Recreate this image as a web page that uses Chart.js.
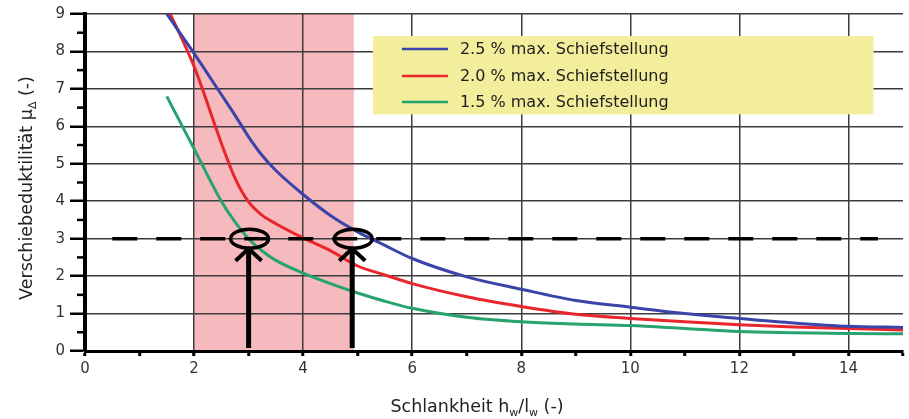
<!DOCTYPE html>
<html lang="de">
<head>
<meta charset="UTF-8">
<title>Verschiebeduktilität</title>
<script src="https://cdn.jsdelivr.net/npm/chart.js"></script>
<style>
  html, body { margin: 0; padding: 0; background: #fff; }
  #wrap { width: 909px; height: 419px; }
</style>
</head>
<body>
<div id="wrap"><canvas id="chart"></canvas></div>
<script>
// Schlankheit hw/lw
const slenderness = [1.5, 2, 2.5, 2.75, 3, 3.25, 3.5, 4, 4.5, 5, 5.5, 6, 7, 8, 9, 10, 11, 12, 13, 14, 15];
// Verschiebeduktilitaet je max. Schiefstellung
const tilt25 = [9.0, 7.95, 6.85, 6.3, 5.72, 5.22, 4.82, 4.18, 3.62, 3.18, 2.82, 2.47, 1.98, 1.65, 1.35, 1.17, 1.0, 0.87, 0.75, 0.66, 0.63];
const tilt20 = [9.2, 7.6, 5.55, 4.62, 3.98, 3.62, 3.4, 3.02, 2.68, 2.27, 2.03, 1.8, 1.45, 1.19, 0.98, 0.87, 0.78, 0.7, 0.64, 0.6, 0.56];
const tilt15 = [6.8, 5.4, 4.0, 3.45, 3.0, 2.67, 2.42, 2.08, 1.8, 1.55, 1.33, 1.14, 0.9, 0.78, 0.72, 0.68, 0.6, 0.52, 0.49, 0.47, 0.46];
const seriesLabels = ['2.5 % max. Schiefstellung', '2.0 % max. Schiefstellung', '1.5 % max. Schiefstellung'];
const seriesColors = ['#3b44a8', '#e8262b', '#27a36f'];

// markierungen
const shadedRange = [2, 4.93];
const limitDuctility = 3;
const markedSlenderness = [3, 4.9];

function toPoints(ys) {
  return slenderness.map((x, i) => ({ x: x, y: ys[i] }));
}

const tickFont = { family: 'DejaVu Sans', size: 15 };

const extras = {
  id: 'extras',
  beforeDraw(chart) {
    const { ctx, chartArea: a, scales: { x, y } } = chart;
    ctx.save();
    ctx.fillStyle = '#f6b9be';
    ctx.fillRect(x.getPixelForValue(shadedRange[0]), a.top,
      x.getPixelForValue(shadedRange[1]) - x.getPixelForValue(shadedRange[0]), a.bottom - a.top);
    ctx.restore();
  },
  beforeDatasetsDraw(chart) {
    const { ctx, scales: { x, y } } = chart;
    ctx.save();
    // gelbe legendenbox
    const bx = x.getPixelForValue(5.28), by = y.getPixelForValue(8.41);
    const bw = x.getPixelForValue(14.46) - bx, bh = y.getPixelForValue(6.32) - by;
    ctx.fillStyle = '#f3ee9c';
    ctx.fillRect(bx, by, bw, bh);
    // kleine zwischenticks an der y-achse
    ctx.strokeStyle = '#000';
    ctx.lineWidth = 2.5;
    const x0 = x.getPixelForValue(0);
    for (let v = 0.5; v < 9; v += 1) {
      const py = y.getPixelForValue(v);
      ctx.beginPath();
      ctx.moveTo(x0 - 8, py);
      ctx.lineTo(x0, py);
      ctx.stroke();
    }
    ctx.restore();
  },
  afterDatasetsDraw(chart) {
    const { ctx, scales: { x, y } } = chart;
    ctx.save();
    const yl = y.getPixelForValue(limitDuctility);
    // gestrichelte grenzlinie
    ctx.strokeStyle = '#000';
    ctx.lineWidth = 3.5;
    ctx.setLineDash([25, 19]);
    ctx.beginPath();
    ctx.moveTo(x.getPixelForValue(0.5), yl);
    ctx.lineTo(x.getPixelForValue(14.54), yl);
    ctx.stroke();
    ctx.setLineDash([]);
    // kreise und pfeile
    markedSlenderness.forEach(v => {
      const px = x.getPixelForValue(v);
      ctx.lineWidth = 3.5;
      ctx.beginPath();
      ctx.ellipse(px + 1, yl, 19, 9.5, 0, 0, Math.PI * 2);
      ctx.stroke();
      const tip = yl + 10;
      ctx.lineWidth = 5;
      ctx.beginPath();
      ctx.moveTo(px, y.getPixelForValue(0) - 3);
      ctx.lineTo(px, tip + 2);
      ctx.stroke();
      ctx.lineWidth = 4;
      ctx.beginPath();
      ctx.moveTo(px - 13, tip + 12);
      ctx.lineTo(px, tip);
      ctx.lineTo(px + 13, tip + 12);
      ctx.stroke();
    });
    // legende
    ctx.font = '16px "DejaVu Sans"';
    ctx.textBaseline = 'middle';
    ctx.textAlign = 'left';
    const lx = x.getPixelForValue(5.28) + 29;
    const rows = [49, 76, 102];
    chart.data.datasets.forEach((ds, i) => {
      ctx.strokeStyle = ds.borderColor;
      ctx.lineWidth = 2.5;
      ctx.beginPath();
      ctx.moveTo(lx, rows[i]);
      ctx.lineTo(lx + 46, rows[i]);
      ctx.stroke();
      ctx.fillStyle = '#1e1e1e';
      ctx.fillText(ds.label, lx + 58, rows[i] + 1);
    });
    ctx.restore();
  },
  afterDraw(chart) {
    const { ctx } = chart;
    ctx.save();
    ctx.fillStyle = '#222';
    ctx.textBaseline = 'alphabetic';
    // y-titel
    ctx.translate(32, 188);
    ctx.rotate(-Math.PI / 2);
    drawRich(ctx, [['Verschiebeduktilität μ', false], ['Δ', true], [' (-)', false]], 0, 0);
    ctx.restore();
    ctx.save();
    ctx.fillStyle = '#222';
    drawRich(ctx, [['Schlankheit h', false], ['w', true], ['/l', false], ['w', true], [' (-)', false]], 477, 412);
    ctx.restore();
  }
};

function drawRich(ctx, parts, cx, baseY) {
  const big = '17.5px "DejaVu Sans"', small = '11px "DejaVu Sans"';
  let w = 0;
  parts.forEach(p => { ctx.font = p[1] ? small : big; w += ctx.measureText(p[0]).width; });
  let px = cx - w / 2;
  ctx.textAlign = 'left';
  parts.forEach(p => {
    ctx.font = p[1] ? small : big;
    ctx.fillText(p[0], px, baseY + (p[1] ? 4 : 0));
    px += ctx.measureText(p[0]).width;
  });
}

new Chart(document.getElementById('chart'), {
  type: 'line',
  data: {
    datasets: [tilt25, tilt20, tilt15].map((vals, i) => ({
      label: seriesLabels[i],
      data: toPoints(vals),
      borderColor: seriesColors[i],
      borderWidth: 3,
      pointRadius: 0,
      cubicInterpolationMode: 'monotone',
      fill: false
    }))
  },
  options: {
    responsive: true,
    maintainAspectRatio: false,
    animation: false,
    layout: { padding: { top: 6, right: 6, left: 0, bottom: 0 } },
    plugins: { legend: { display: false }, tooltip: { enabled: false } },
    scales: {
      x: {
        type: 'linear',
        min: 0, max: 15,
        afterFit(s) { s.height = 68; },
        border: { color: '#000', width: 3 },
        grid: {
          color: c => (c.tick && c.tick.value % 2 === 0 && c.tick.value > 0) ? '#3c3c3c' : 'rgba(0,0,0,0)',
          lineWidth: 1.5,
          tickColor: '#000',
          tickWidth: 3,
          tickLength: 5
        },
        ticks: {
          stepSize: 1,
          autoSkip: false,
          maxRotation: 0,
          padding: 4,
          color: '#333',
          font: tickFont,
          callback: v => (v % 2 === 0 ? String(v) : '')
        }
      },
      y: {
        type: 'linear',
        min: 0, max: 9,
        afterFit(s) { s.width = 85; },
        border: { color: '#000', width: 4 },
        grid: {
          color: c => (c.tick && Number.isInteger(c.tick.value) && c.tick.value > 0) ? '#3c3c3c' : 'rgba(0,0,0,0)',
          lineWidth: 1.5,
          tickColor: c => (c.tick && Number.isInteger(c.tick.value)) ? '#000' : 'rgba(0,0,0,0)',
          tickWidth: 2.5,
          tickLength: 15
        },
        ticks: {
          stepSize: 0.5,
          autoSkip: false,
          padding: 5,
          color: '#333',
          font: tickFont,
          callback: v => (Number.isInteger(v) ? String(v) : '')
        }
      }
    }
  },
  plugins: [extras]
});
</script>
</body>
</html>
